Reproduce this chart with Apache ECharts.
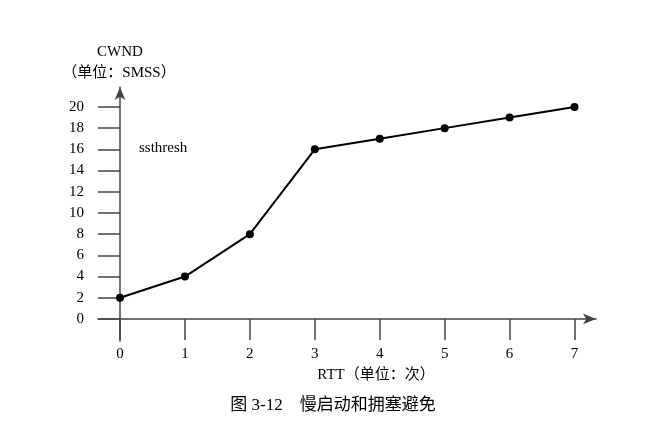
<!DOCTYPE html>
<html><head><meta charset="utf-8">
<script src="https://cdn.jsdelivr.net/npm/echarts@6/dist/echarts.min.js"></script>
<style>html,body{margin:0;padding:0;background:#fff}#c{width:648px;height:434px}</style>
</head><body><div id="c"></div>
<script>
const rttValues = [0, 1, 2, 3, 4, 5, 6, 7];
const cwndValues = [2, 4, 8, 16, 17, 18, 19, 20];
const xTicks = [0, 1, 2, 3, 4, 5, 6, 7];
const yTicks = [0, 2, 4, 6, 8, 10, 12, 14, 16, 18, 20];
const yNameLine1 = 'CWND';
const yNameLine2 = '（单位：SMSS）';
const xName = 'RTT（单位：次）';
const caption = '图 3-12    慢启动和拥塞避免';
const annotation = 'ssthresh';

const serif = '"Liberation Serif", "Noto Sans CJK SC", serif';
const axisColor = '#444';
const chart = echarts.init(document.getElementById('c'), null, {renderer: 'canvas'});
function txt(text, x, y, size, align) {
  return {type: 'text', position: [x, y],
    style: {text: text, x: 0, y: 0, align: align || 'center', verticalAlign: 'middle',
      font: size + 'px ' + serif, fill: '#000'}};
}
chart.setOption({
  backgroundColor: '#fff',
  animation: false,
  grid: {left: 98, right: 52, top: 87, bottom: 93},
  xAxis: {
    type: 'value', min: -0.339, max: 7.331,
    axisLine: {show: true, onZero: true, symbol: ['none', 'arrow'], symbolSize: [8, 13],
      lineStyle: {color: axisColor, width: 1.5}},
    axisTick: {show: true, customValues: xTicks, length: 21, inside: false,
      lineStyle: {color: axisColor, width: 1.5}},
    axisLabel: {customValues: xTicks, margin: 6, color: '#000', fontFamily: serif, fontSize: 15},
    splitLine: {show: false}
  },
  yAxis: {
    type: 'value', min: -2.08, max: 21.88,
    axisLine: {show: true, onZero: true, symbol: ['none', 'arrow'], symbolSize: [8, 13],
      lineStyle: {color: axisColor, width: 1.5}},
    axisTick: {show: true, customValues: yTicks, length: 22, inside: false,
      lineStyle: {color: axisColor, width: 1.5}},
    axisLabel: {customValues: yTicks, margin: 14, color: '#000', fontFamily: serif, fontSize: 15},
    splitLine: {show: false}
  },
  graphic: [
    txt(yNameLine1, 120, 52, 15),
    txt(yNameLine2, 119, 73, 15),
    txt(annotation, 139, 148, 15, 'left'),
    txt(xName, 376, 375, 15),
    txt(caption, 333, 406, 17)
  ],
  series: [{
    type: 'line',
    data: rttValues.map((x, i) => [x, cwndValues[i]]),
    symbol: 'circle', symbolSize: 8,
    lineStyle: {color: '#000', width: 2},
    itemStyle: {color: '#000'}
  }]
});
</script></body></html>
